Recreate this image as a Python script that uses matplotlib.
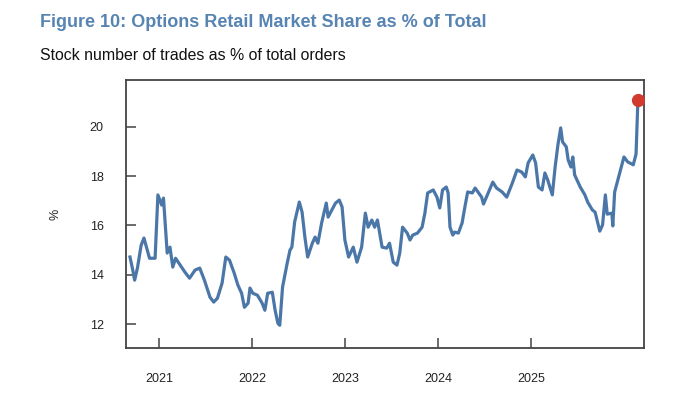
import matplotlib.pyplot as plt

# decimal year positions and share (%)
years = [2020.69, 2020.72, 2020.74, 2020.77, 2020.81, 2020.84, 2020.87, 2020.90, 2020.96, 2020.99,
         2021.01, 2021.03, 2021.05, 2021.09, 2021.12, 2021.15, 2021.18, 2021.23, 2021.28, 2021.33,
         2021.39, 2021.44, 2021.49, 2021.55, 2021.59, 2021.63, 2021.68, 2021.72, 2021.76, 2021.81,
         2021.85, 2021.89, 2021.92, 2021.96, 2021.98, 2022.01, 2022.06, 2022.11, 2022.14, 2022.17,
         2022.22, 2022.25, 2022.28, 2022.30, 2022.33, 2022.38, 2022.41, 2022.43, 2022.46, 2022.51,
         2022.54, 2022.57, 2022.60, 2022.65, 2022.68, 2022.71, 2022.75, 2022.80, 2022.82, 2022.86,
         2022.90, 2022.94, 2022.97, 2023.00, 2023.04, 2023.09, 2023.13, 2023.18, 2023.22, 2023.25,
         2023.29, 2023.32, 2023.35, 2023.40, 2023.45, 2023.48, 2023.52, 2023.56, 2023.59, 2023.62,
         2023.67, 2023.70, 2023.73, 2023.78, 2023.83, 2023.86, 2023.89, 2023.95, 2023.99, 2024.02,
         2024.05, 2024.09, 2024.11, 2024.13, 2024.16, 2024.18, 2024.22, 2024.26, 2024.29, 2024.32,
         2024.37, 2024.40, 2024.43, 2024.47, 2024.49, 2024.54, 2024.59, 2024.63, 2024.69, 2024.74,
         2024.80, 2024.85, 2024.90, 2024.94, 2024.97, 2025.02, 2025.05, 2025.08, 2025.12, 2025.15,
         2025.18, 2025.23, 2025.26, 2025.29, 2025.32, 2025.34, 2025.38, 2025.40, 2025.43, 2025.45,
         2025.47, 2025.53, 2025.58, 2025.61, 2025.66, 2025.69, 2025.74, 2025.77, 2025.80, 2025.82,
         2025.87, 2025.88, 2025.90, 2025.96, 2026.00, 2026.04, 2026.10, 2026.13, 2026.15]
share = [14.72, 14.19, 13.78, 14.27, 15.20, 15.49, 15.08, 14.67, 14.67, 17.24,
         17.03, 16.83, 17.11, 14.88, 15.12, 14.31, 14.67, 14.39, 14.11, 13.86,
         14.19, 14.27, 13.78, 13.09, 12.89, 13.05, 13.66, 14.72, 14.59, 14.07,
         13.58, 13.25, 12.68, 12.85, 13.46, 13.25, 13.17, 12.85, 12.56, 13.25,
         13.29, 12.56, 12.03, 11.95, 13.50, 14.47, 15.00, 15.12, 16.14, 16.95,
         16.54, 15.53, 14.72, 15.28, 15.53, 15.28, 16.10, 16.91, 16.34, 16.63,
         16.91, 17.03, 16.75, 15.41, 14.72, 15.12, 14.51, 15.12, 16.50, 15.93,
         16.22, 15.93, 16.22, 15.12, 15.08, 15.28, 14.51, 14.39, 14.88, 15.93,
         15.69, 15.41, 15.61, 15.69, 15.93, 16.50, 17.32, 17.44, 17.15, 16.71,
         17.44, 17.56, 17.32, 15.93, 15.61, 15.73, 15.69, 16.10, 16.75, 17.36,
         17.32, 17.52, 17.36, 17.15, 16.87, 17.32, 17.76, 17.52, 17.36, 17.15,
         17.72, 18.25, 18.17, 17.97, 18.54, 18.86, 18.54, 17.56, 17.44, 18.13,
         17.85, 17.24, 18.37, 19.27, 19.96, 19.39, 19.19, 18.66, 18.37, 18.78,
         18.05, 17.56, 17.24, 16.95, 16.63, 16.54, 15.77, 16.02, 17.24, 16.46,
         16.50, 15.98, 17.36, 18.21, 18.78, 18.58, 18.46, 18.90, 21.10]

xticks = [2021, 2022, 2023, 2024, 2025]
yticks = [12, 14, 16, 18, 20]

plt.rcParams['font.family'] = ['Liberation Sans', 'DejaVu Sans']

fig = plt.figure(figsize=(6.8, 4.17), dpi=100)
ax = fig.add_axes([0.185, 0.165, 0.762, 0.643])

ax.plot(years, share, color='#4a77a8', lw=2.3, solid_joinstyle='round')
ax.plot(years[-1], share[-1], 'o', color='#d23a2e', ms=8.5, zorder=5)

ax.set_xlim(2020.645, 2026.215)
ax.set_ylim(11.02, 21.9)
ax.set_xticks(xticks)
ax.set_xticklabels([str(y) for y in xticks])
ax.set_yticks(yticks)
ax.tick_params(axis='both', direction='in', length=7, width=1.1, color='#444444',
               labelsize=9, labelcolor='#222222')
ax.tick_params(axis='x', pad=18)
ax.tick_params(axis='y', pad=16)
for s in ax.spines.values():
    s.set_color('#444444')
    s.set_linewidth(1.3)

ax.set_ylabel('%', fontsize=9, color='#222222', labelpad=20)

fig.text(0.059, 0.947, 'Figure 10: Options Retail Market Share as % of Total',
         fontsize=13, fontweight='bold', color='#5784b2', va='center')
fig.text(0.059, 0.868, 'Stock number of trades as % of total orders',
         fontsize=11.4, color='#111111', va='center')

fig.savefig('out.png', dpi=100)
